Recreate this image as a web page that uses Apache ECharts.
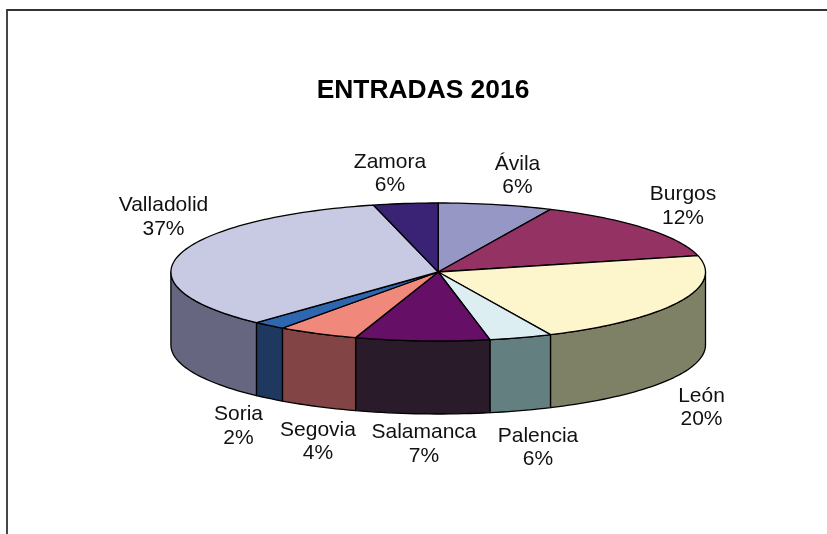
<!DOCTYPE html>
<html><head><meta charset="utf-8">
<style>html,body{margin:0;padding:0;background:#fff}#c{width:827px;height:534px}</style>
<script src="https://cdn.jsdelivr.net/npm/echarts@6/dist/echarts.min.js"></script>
</head><body><div id="c"></div>
<script>
const categories = ['Ávila','Burgos','León','Palencia','Salamanca','Segovia','Soria','Valladolid','Zamora'];
// Percentages printed on the chart's labels.
const percentLabels = [6,12,20,6,7,4,2,37,6];
// Share of the ellipse each slice actually occupies in the picture; the reference's
// 3D projection distorts the arcs, so these differ somewhat from the printed labels.
const drawnShares = [6.9,14.3,21.9,3.8,8.1,4.9,2.0,34.2,3.9];
const topColors = ['#9797C6','#953264','#FDF5CB','#DDEEF2','#660F66','#F0887C','#2E66B0','#C8CAE4','#3A2375'];
const sideColors = ['#4C4C63','#4A1932','#7F8166','#647F80','#2A1B2A','#824444','#1F3860','#666680','#1D123A'];
// Layout
const pie = {cx:438.2, cy:272, rx:267.3, ry:69, depth:73};
const labelCentres = [[517.5,175.5],[683,206],[701.5,407.5],[538,447.5],[424,444],[318,441.5],[238.5,426],[163.5,217],[390,173.5]];

const pt = (deg,dy=0)=>{const a=deg*Math.PI/180;return [pie.cx+pie.rx*Math.sin(a), pie.cy-pie.ry*Math.cos(a)+dy];};
const arc = (a,b,dy=0)=>{const n=Math.max(2,Math.ceil((b-a)/1.5));const p=[];for(let i=0;i<=n;i++)p.push(pt(a+(b-a)*i/n,dy));return p;};
const line = {stroke:'#000',lineWidth:1.3,lineJoin:'round'};

const chartData = [];
let acc = 0;
categories.forEach((name,i)=>{
  chartData.push({name, value:[percentLabels[i],acc,acc+drawnShares[i]]});
  acc += drawnShares[i];
});
const total = drawnShares.reduce((s,v)=>s+v,0);

function renderSlice(params, api){
  const i = params.dataIndex;
  const a = api.value(1)/total*360, b = api.value(2)/total*360;
  const children = [];
  const s = Math.max(a,90), e = Math.min(b,270);
  if (e > s) {
    const upper = arc(s,e), lower = arc(s,e,pie.depth).reverse();
    children.push({type:'polygon',shape:{points:upper.concat(lower)},style:{fill:sideColors[i],...line}});
  }
  children.push({type:'polygon',shape:{points:[[pie.cx,pie.cy]].concat(arc(a,b))},style:{fill:topColors[i],...line}});
  return {type:'group',children};
}

const chart = echarts.init(document.getElementById('c'),null,{renderer:'canvas'});
chart.setOption({
  animation:false,
  backgroundColor:'#fff',
  title:{text:'ENTRADAS 2016',left:423,top:90.5,textAlign:'center',textVerticalAlign:'middle',
    textStyle:{fontFamily:'"Liberation Sans",Arial,sans-serif',fontWeight:'bold',fontSize:26.4,color:'#000'},padding:0},
  series:[{type:'custom',coordinateSystem:'none',silent:true,data:chartData,renderItem:renderSlice,
           encode:{value:0},clip:false}],
  graphic:[
    {type:'polyline',shape:{points:[[7,534],[7,10],[827,10]]},style:{fill:'none',stroke:'#333',lineWidth:1.8},silent:true}
  ].concat(categories.map((name,i)=>({
    type:'text',x:labelCentres[i][0],y:labelCentres[i][1],silent:true,
    style:{text:name+'\n'+percentLabels[i]+'%',align:'center',verticalAlign:'middle',lineHeight:23.5,
      font:'21px "Liberation Sans",Arial,sans-serif',fill:'#111'}
  })))
});
</script></body></html>
